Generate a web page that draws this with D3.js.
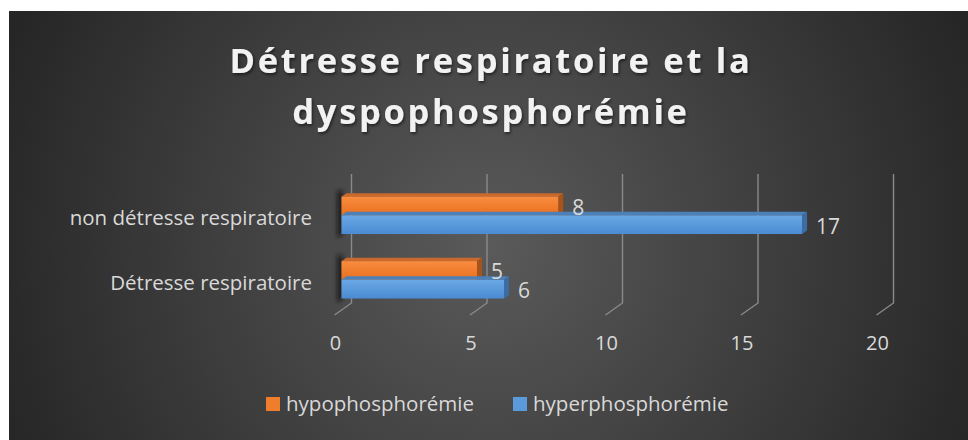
<!DOCTYPE html>
<html>
<head>
<meta charset="utf-8">
<script src="https://cdn.jsdelivr.net/npm/d3@7"></script>
<style>
  html, body { margin: 0; padding: 0; background: #ffffff; }
  svg { display: block; }
</style>
</head>
<body>
<svg id="chart" width="968" height="440"></svg>
<script>
// Categories (top to bottom) and series values
const categories = ["non détresse respiratoire", "Détresse respiratoire"];
const seriesNames = ["hypophosphorémie", "hyperphosphorémie"];
const hypoValues = [8, 5];
const hyperValues = [17, 6];
const xTicks = [0, 5, 10, 15, 20];

const W = 968, H = 440;
const FONT = "'Open Sans', sans-serif";
const svg = d3.select("#chart");
const defs = svg.append("defs");

// Background: dark panel with a soft lighter centre
const bg = defs.append("radialGradient").attr("id", "bgGrad")
  .attr("gradientUnits", "userSpaceOnUse")
  .attr("cx", 490).attr("cy", 245).attr("r", 520);
bg.append("stop").attr("offset", "0%").attr("stop-color", "#5a5a5a");
bg.append("stop").attr("offset", "100%").attr("stop-color", "#262626");
svg.append("rect").attr("x", 9).attr("y", 11).attr("width", W - 9).attr("height", H - 11)
  .attr("fill", "url(#bgGrad)");

// Filters
const shadow = defs.append("filter").attr("id", "titleShadow")
  .attr("x", "-10%").attr("y", "-30%").attr("width", "120%").attr("height", "160%");
shadow.append("feDropShadow").attr("dx", 1.2).attr("dy", 1.8).attr("stdDeviation", 1.8)
  .attr("flood-color", "#000").attr("flood-opacity", 0.55);
const blur = defs.append("filter").attr("id", "softBlur")
  .attr("x", "-100%").attr("y", "-20%").attr("width", "300%").attr("height", "140%");
blur.append("feGaussianBlur").attr("stdDeviation", 2.2);

// Bar face gradients
function faceGrad(id, c1, c2) {
  const g = defs.append("linearGradient").attr("id", id)
    .attr("x1", 0).attr("y1", 0).attr("x2", 0).attr("y2", 1);
  g.append("stop").attr("offset", "0%").attr("stop-color", c1);
  g.append("stop").attr("offset", "100%").attr("stop-color", c2);
}
faceGrad("orangeFront", "#f98c40", "#e9701d");
faceGrad("blueFront", "#6aa7e4", "#4a8bd2");
const palette = [
  { front: "url(#orangeFront)", top: "#c9692c", side: "#a8531a", key: "#f07d2c" },
  { front: "url(#blueFront)", top: "#4d80b9", side: "#3c6ca3", key: "#5b9bdb" }
];

// Title
const title = svg.append("g").attr("filter", "url(#titleShadow)")
  .attr("font-family", FONT).attr("font-weight", 700)
  .attr("font-size", 34.5).attr("fill", "#f2f2f2").attr("letter-spacing", 2.7)
  .attr("text-anchor", "middle");
title.append("text").attr("x", 491).attr("y", 73).text("Détresse respiratoire et la");
title.append("text").attr("x", 491).attr("y", 124).text("dyspophosphorémie");

// 3D projection: front plane plus a depth vector
const depth = { dx: 17, dy: -12 };
const plotTop = 186, plotBottom = 315;
const x = d3.scaleLinear().domain([0, 20]).range([334.5, 876.5]);
const y = d3.scaleBand().domain(categories).range([188, 317])
  .paddingInner(0.42).paddingOuter(0.21);
const barZ0 = 0.41, barZ1 = 0.70;   // bar front / back depth fractions

// Gridlines: vertical on the back wall, folding down to the front edge
const grid = svg.append("g").attr("stroke", "#8a8a8a").attr("stroke-width", 1.4).attr("fill", "none");
xTicks.forEach(t => {
  const fx = x(t);
  const bx = fx + depth.dx;
  grid.append("path")
    .attr("d", `M${bx},${plotTop + depth.dy} L${bx},${plotBottom + depth.dy} L${fx},${plotBottom}`);
});

// Tick labels
svg.append("g").attr("font-family", FONT).attr("font-size", 20)
  .attr("fill", "#d9d9d9").attr("text-anchor", "middle")
  .selectAll("text").data(xTicks).join("text")
  .attr("x", d => x(d) + 1).attr("y", 350).text(d => d);

// Category labels
svg.append("g").attr("font-family", FONT).attr("font-size", 20.5)
  .attr("fill", "#d9d9d9").attr("text-anchor", "end")
  .selectAll("text").data(categories).join("text")
  .attr("x", 312).attr("y", d => y(d) + y.bandwidth() / 2 + 5).text(d => d);

const seriesValues = [hypoValues, hyperValues];
const barH = y.bandwidth() / 2;
const ox0 = depth.dx * barZ0, oy0 = depth.dy * barZ0;
const bdx = depth.dx * (barZ1 - barZ0), bdy = depth.dy * (barZ1 - barZ0);

// Soft shadows cast by the bars along the left side
const shadows = svg.append("g").attr("filter", "url(#softBlur)").attr("fill", "#111").attr("opacity", 0.85);
categories.forEach(c => {
  const top = y(c) + oy0, bot = y(c) + y.bandwidth() + oy0;
  const xl = x(0) + ox0;
  shadows.append("path")
    .attr("d", `M${xl - 4},${top - 6} L${xl + 1},${top - 6} L${xl + 1},${bot} L${xl - 4},${bot + 4} Z`);
});

// Bars
const bars = svg.append("g");
categories.forEach((c, ci) => {
  seriesValues.forEach((vals, si) => {
    const v = vals[ci];
    const p = palette[si];
    const x0 = x(0) + ox0, x1 = x(v) + ox0;
    const y0 = y(c) + si * barH + oy0, y1 = y0 + barH;
    const g = bars.append("g");
    g.append("path").attr("fill", p.top)
      .attr("d", `M${x0},${y0} L${x0 + bdx},${y0 + bdy} L${x1 + bdx},${y0 + bdy} L${x1},${y0} Z`);
    g.append("path").attr("fill", p.side)
      .attr("d", `M${x1},${y0} L${x1 + bdx},${y0 + bdy} L${x1 + bdx},${y1 + bdy} L${x1},${y1} Z`);
    g.append("rect").attr("x", x0).attr("y", y0).attr("width", x1 - x0).attr("height", barH)
      .attr("fill", p.front);
  });
});

// Value labels next to each bar end
const vlabels = svg.append("g").attr("font-family", FONT).attr("font-size", 21)
  .attr("fill", "#d9d9d9");
categories.forEach((c, ci) => {
  seriesValues.forEach((vals, si) => {
    const v = vals[ci];
    const yc = y(c) + si * barH + barH / 2 + oy0;
    vlabels.append("text")
      .attr("x", x(v) + ox0 + bdx + 9).attr("y", yc + 9).text(v);
  });
});

// Legend
const legend = svg.append("g").attr("font-family", FONT).attr("font-size", 20.5)
  .attr("fill", "#d9d9d9");
const legendX = [266, 513];
seriesNames.forEach((name, i) => {
  legend.append("rect").attr("x", legendX[i]).attr("y", 397).attr("width", 14).attr("height", 14)
    .attr("fill", palette[i].key);
  legend.append("text").attr("x", legendX[i] + 20).attr("y", 411).text(name);
});
</script>
</body>
</html>
